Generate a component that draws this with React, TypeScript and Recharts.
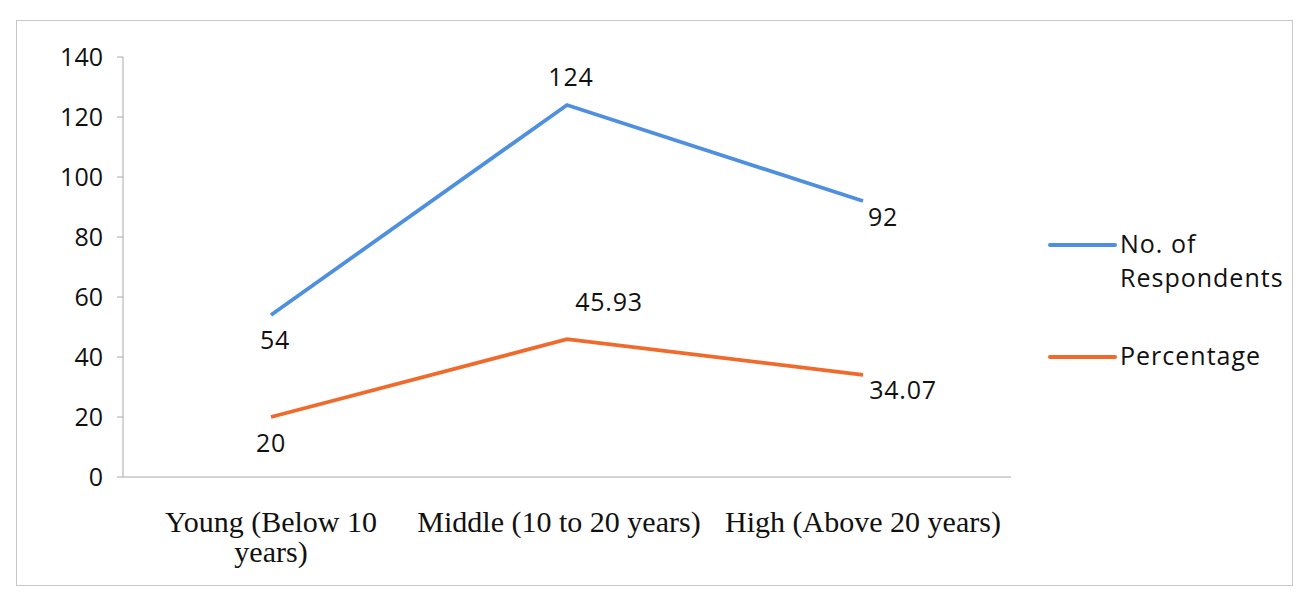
import React from "react";
import { LineChart, Line, XAxis, YAxis, Legend, LabelList } from "recharts";

const categories = ["Young (Below 10\nyears)", "Middle (10 to 20 years)", "High (Above 20 years)"];
const respondents = [54, 124, 92];
const percentage = [20, 45.93, 34.07];
const yTicks = [0, 20, 40, 60, 80, 100, 120, 140];
const bandEdges = [0, 1, 2, 3];

// label nudges (dx, dy) per point, like the Excel layout
const respLabelOffset = [[4, 24], [4, -29], [20, 15]];
const pctLabelOffset = [[0, 25], [42, -38], [40, 14]];

const data = categories.map((group, i) => ({
  group,
  respondents: respondents[i],
  percentage: percentage[i],
}));

const SANS = "'Open Sans', sans-serif";
const SERIF = "'Liberation Serif', 'Times New Roman', serif";
const BLUE = "#4f8fe0";
const ORANGE = "#f06a2c";
const AXIS = "#a8a8a8";

const NoTick = () => null;

const CategoryTick = ({ x, y, payload, index }: any) => {
  const lines = String(payload.value).split("\n");
  const dx = index === 1 ? -8 : 0;
  return (
    <text x={x + dx} y={y} textAnchor="middle" fontFamily={SERIF} fontSize={30} fill="#111">
      {lines.map((line, i) => (
        <tspan key={i} x={x + dx} dy={i === 0 ? 55 : 30}>
          {line}
        </tspan>
      ))}
    </text>
  );
};

const makeLabel = (offsets: number[][]) => (props: any) => {
  const { x, y, value, index } = props;
  const [dx, dy] = offsets[index] ?? [0, 0];
  return (
    <text
      x={x + dx}
      y={y + dy}
      textAnchor="middle"
      dominantBaseline="central"
      fontFamily={SANS}
      fontSize={25}
      letterSpacing={0.8}
      fill="#111"
    >
      {value}
    </text>
  );
};

const LegendContent = ({ payload }: any) => (
  <div style={{ fontFamily: SANS, fontSize: 25, letterSpacing: 1, color: "#111" }}>
    {(payload || []).map((entry: any, i: number) => (
      <div key={i} style={{ display: "flex", alignItems: "flex-start", marginBottom: i === 0 ? 44 : 0 }}>
        <svg width={72} height={34} style={{ flex: "none" }}>
          <line x1={2} x2={67} y1={19} y2={19} stroke={entry.color} strokeWidth={4} strokeLinecap="round" />
        </svg>
        <span style={{ lineHeight: "34px", width: 178 }}>{entry.value}</span>
      </div>
    ))}
  </div>
);

export default function App() {
  return (
    <div style={{ position: "absolute", left: 0, top: 0, width: 1303, height: 594, background: "#fff" }}>
      <div
        style={{
          position: "absolute",
          left: 16,
          top: 20,
          width: 1275,
          height: 564,
          border: "1px solid #c8c8c8",
          pointerEvents: "none",
        }}
      />
      <LineChart width={1303} height={594} data={data} margin={{ top: 57, right: 292, left: 0, bottom: 0 }}>
        <XAxis
          xAxisId="edges"
          type="number"
          domain={[0, 3]}
          ticks={bandEdges}
          tick={<NoTick />}
          height={0}
          axisLine={false}
          tickLine={{ stroke: AXIS }}
          tickSize={6}
        />
        <XAxis
          dataKey="group"
          scale="band"
          height={117}
          interval={0}
          tickLine={false}
          tickSize={0}
          tickMargin={0}
          axisLine={{ stroke: AXIS }}
          tick={<CategoryTick />}
        />
        <YAxis
          width={123}
          domain={[0, 140]}
          ticks={yTicks}
          interval={0}
          axisLine={{ stroke: AXIS }}
          tickLine={{ stroke: AXIS }}
          tickSize={6}
          tickMargin={14}
          tick={{ fill: "#111", fontSize: 25, fontFamily: SANS }}
        />
        <Legend
          layout="horizontal"
          verticalAlign="middle"
          align="center"
          content={<LegendContent />}
          wrapperStyle={{ left: 1048, top: 226, width: 255 }}
        />
        <Line
          dataKey="respondents"
          name="No. of Respondents"
          stroke={BLUE}
          strokeWidth={3.8}
          dot={false}
          isAnimationActive={false}
        >
          <LabelList dataKey="respondents" content={makeLabel(respLabelOffset)} />
        </Line>
        <Line
          dataKey="percentage"
          name="Percentage"
          stroke={ORANGE}
          strokeWidth={3.8}
          dot={false}
          isAnimationActive={false}
        >
          <LabelList dataKey="percentage" content={makeLabel(pctLabelOffset)} />
        </Line>
      </LineChart>
    </div>
  );
}
